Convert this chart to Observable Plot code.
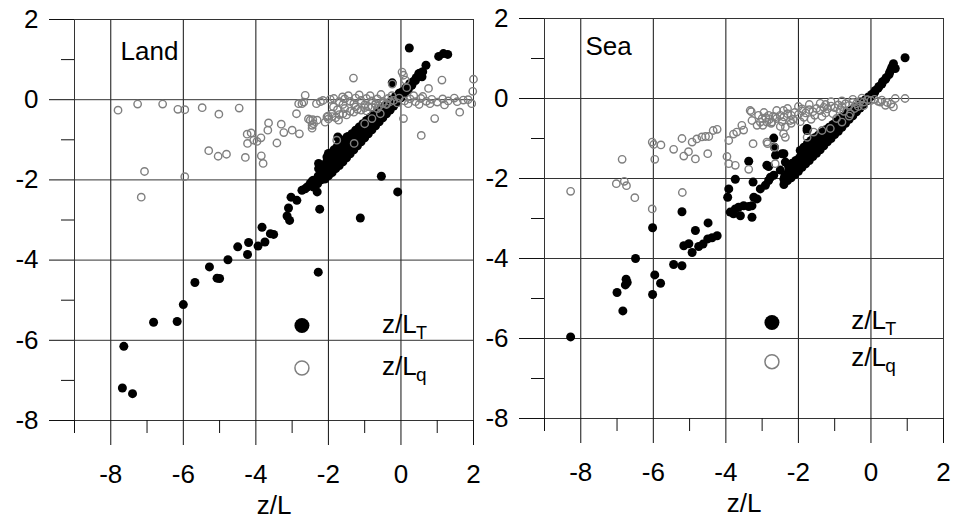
<!DOCTYPE html>
<html><head><meta charset="utf-8">
<script src="https://cdn.jsdelivr.net/npm/d3@7"></script>
<script src="https://cdn.jsdelivr.net/npm/@observablehq/plot@0.6"></script>
<style>
body{margin:0;background:#fff;}
#wrap{position:relative;width:953px;height:518px;overflow:hidden;}
#wrap svg{position:absolute;top:0;}
</style></head><body><div id="wrap"></div>
<script>
// ---------- data ----------
const xMajorTicks = [-8, -6, -4, -2, 0, 2];
const xMinorTicks = [-9, -7, -5, -3, -1, 1];
const yMajorTicks = [-8, -6, -4, -2, 0, 2];
const yMinorTicks = [-7, -5, -3, -1, 1];
const xGridLines = [-8, -6, -4, -2, 0];
const yGridLines = [-6, -4, -2, 0];
const panelNames = ["Land", "Sea"];
const axisTitle = "z/L";
const seriesNames = ["z/L", "T", "q"];

// Land, z/L_T (filled black)
const landT = [
[-7.68,-7.19],[-7.40,-7.33],[-7.64,-6.15],[-6.82,-5.55],[-6.17,-5.53],[-6.00,-5.11],[-5.68,-4.56],[-5.07,-4.45],[-5.00,-4.46],[-5.28,-4.17],
[-4.77,-3.99],[-4.23,-3.86],[-4.50,-3.67],[-4.20,-3.56],[-3.94,-3.65],[-3.75,-3.55],[-3.83,-3.18],[-3.60,-3.34],[-3.51,-3.36],[-3.14,-2.90],
[-3.07,-3.01],[-3.10,-2.70],[-3.03,-2.43],[-2.87,-2.51],[-2.73,-2.26],[-2.64,-2.22],[-2.50,-2.09],[-2.41,-2.18],[-2.31,-2.30],[-2.45,-2.03],
[-2.22,-1.93],[-2.27,-1.59],[-2.27,-1.72],[-2.24,-2.73],[-2.28,-4.30],[-1.12,-2.95],[-0.54,-1.91],[-0.09,-2.30],[-1.95,-1.51],[-1.76,-1.43],
[-1.58,-1.34],[-1.40,-1.30],[-1.86,-1.68],[-1.74,-0.93],[-1.49,-0.93],[-2.04,-1.43],[-2.00,-1.34],[-1.72,-0.97],[-1.49,-1.01],[-2.59,-2.18],
[-2.41,-2.01],[0.23,1.29],[1.04,1.08],[1.17,1.15],[1.29,1.13],[0.69,0.86],[0.49,0.65],[0.58,0.57],[-0.24,0.42],
[-2.3,-2.1],[-2.28,-1.9],[-2.2,-2.0],[-2.18,-1.8],[-2.15,-1.65],[-2.1,-1.98],[-2.08,-1.75],[-2.05,-1.55],[-2.0,-1.9],[-1.98,-1.7],
[-1.97,-1.5],[-1.95,-1.35],[-1.9,-1.82],[-1.88,-1.6],[-1.87,-1.4],[-1.85,-1.25],[-1.8,-1.72],[-1.78,-1.5],[-1.77,-1.3],[-1.75,-1.15],
[-1.7,-1.64],[-1.68,-1.45],[-1.67,-1.25],[-1.65,-1.08],[-1.6,-1.55],[-1.58,-1.35],[-1.57,-1.15],[-1.55,-1.0],[-1.5,-1.45],[-1.48,-1.25],
[-1.47,-1.05],[-1.45,-0.92],[-1.4,-1.35],[-1.38,-1.15],[-1.37,-0.98],[-1.35,-0.85],[-1.3,-1.25],[-1.28,-1.05],[-1.27,-0.9],[-1.25,-0.76],
[-1.2,-1.15],[-1.18,-0.98],[-1.17,-0.82],[-1.15,-0.68],[-1.1,-1.05],[-1.08,-0.9],[-1.07,-0.74],[-1.05,-0.6],[-1.0,-0.95],[-0.98,-0.8],
[-0.97,-0.65],[-0.95,-0.52],[-0.9,-0.85],[-0.88,-0.7],[-0.87,-0.57],[-0.85,-0.44],[-0.8,-0.75],[-0.78,-0.62],[-0.77,-0.5],[-0.75,-0.36],
[-0.7,-0.65],[-0.68,-0.53],[-0.67,-0.42],[-0.65,-0.3],[-0.6,-0.55],[-0.58,-0.45],[-0.57,-0.34],[-0.55,-0.22],[-0.5,-0.45],[-0.48,-0.36],
[-0.47,-0.25],[-0.45,-0.15],[-0.4,-0.35],[-0.38,-0.27],[-0.37,-0.18],[-0.35,-0.08],[-0.3,-0.26],[-0.28,-0.18],[-0.27,-0.1],[-0.25,0.0],
[-0.2,-0.16],[-0.18,-0.08],[-0.17,0.0],[-0.15,0.08],[-0.1,-0.06],[-0.08,0.02],[-0.07,0.1],[-0.05,0.16],[0.0,0.05],[0.02,0.12],
[0.04,0.2],[0.1,0.15],[0.12,0.22],[0.14,0.3],[0.2,0.25],[0.22,0.33],[0.24,0.4],[0.3,0.36],[0.33,0.45],[0.4,0.48],
[0.42,0.55],[0.5,0.6],[0.52,0.66],[0.6,0.7]
];

// Land, z/L_q (open grey)
const landQ = [
[-7.80,-0.26],[-7.26,-0.11],[-6.57,-0.11],[-6.15,-0.24],[-5.96,-0.25],[-5.48,-0.20],[-5.02,-0.36],[-4.46,-0.21],[-7.07,-1.79],[-7.16,-2.43],
[-5.96,-1.92],[-5.30,-1.27],[-5.04,-1.41],[-4.81,-1.36],[-4.29,-1.44],[-3.85,-1.40],[-3.80,-1.59],[-4.24,-0.86],[-4.13,-0.83],[-4.23,-1.09],
[-4.06,-1.01],[-3.97,-1.04],[-3.86,-0.95],[-3.65,-0.58],[-3.67,-0.76],[-3.42,-1.08],[-3.30,-0.61],[-3.23,-0.82],[-3.00,-0.76],[-2.80,-0.85],
[-2.88,-0.35],[-2.82,-0.10],[-2.73,-0.10],[-2.64,0.11],[-2.55,-0.48],[-2.43,-0.50],[-2.45,-0.64],[-2.45,-0.71],[-2.31,-0.51],[-2.33,-0.10],
[-2.22,-0.05],[-2.09,-0.56],[-2.01,-0.41],[-1.95,0.01],[-1.86,-0.18],[-1.77,-1.01],[-1.29,-1.09],[-1.00,-0.60],[-1.31,0.54],[-1.61,0.07],
[0.03,0.69],[0.07,0.61],[0.12,0.49],[-0.24,0.39],[0.16,0.30],[0.76,0.28],[1.13,0.49],[2.00,0.51],[1.98,0.21],[1.47,0.04],
[1.72,-0.01],[1.95,-0.10],[1.62,-0.31],[0.93,-0.47],[0.56,-0.89],[0.07,-0.47],[-2.68,-0.06],[-2.50,-0.51],[-2.41,-0.60],[-1.72,-0.51],
[-0.80,-0.47],[-0.57,-0.35],[-2.04,-0.43],[-1.90,-0.35],
[-2.15,-0.02],[-1.85,0.03],[-1.7,-0.05],[-1.55,0.02],[-1.4,-0.04],[-1.25,0.04],[-1.1,-0.02],[-0.95,0.03],[-0.8,-0.03],[-0.65,0.02],
[-0.5,-0.05],[-0.35,0.03],[-0.2,-0.02],[-0.05,0.04],[0.1,-0.03],[0.25,0.02],[0.4,-0.05],[0.55,0.03],[0.7,-0.04],[0.85,0.01],
[1.0,-0.06],[1.15,0.02],[1.3,-0.03],[1.55,-0.05],[1.85,0.0],[-1.6,-0.12],[-1.3,-0.1],[-1.0,-0.13],[-0.7,-0.1],[-0.4,-0.12],
[-0.1,-0.08],[0.2,-0.1],[0.5,-0.12],[0.8,-0.1],[1.2,-0.13],[-1.45,0.1],[-1.15,0.12],[-0.85,0.1],[-0.55,0.13],[-0.25,0.1],
[0.35,0.1],[0.6,0.08],[-2.0,-0.48],[-1.9,-0.42],[-1.8,-0.45],[-1.7,-0.37],[-1.6,-0.35],[-1.5,-0.38],[-1.4,-0.29],[-1.3,-0.31],
[-1.2,-0.24],[-1.1,-0.26],[-1.0,-0.2],[-0.9,-0.17],[-0.8,-0.19],[-0.7,-0.12],[-0.6,-0.15],[-0.5,-0.09],[-0.4,-0.1],[-0.3,-0.05],
[-1.55,-0.22],[-1.25,-0.18],[-0.95,-0.28],[-0.65,-0.22],[-1.75,-0.25]
];

// Sea, z/L_T (filled black)
const seaT = [
[-8.28,-5.96],[-7.00,-4.85],[-6.84,-5.31],[-6.75,-4.52],[-6.77,-4.66],[-6.72,-4.60],[-6.49,-4.00],[-5.96,-4.41],[-5.80,-4.62],[-6.02,-4.90],
[-5.44,-4.15],[-5.21,-4.18],[-4.93,-3.85],[-6.02,-3.23],[-5.21,-2.83],[-4.84,-3.30],[-4.49,-3.11],[-5.16,-3.68],[-5.02,-3.63],[-4.75,-3.70],
[-4.63,-3.64],[-4.50,-3.51],[-4.38,-3.48],[-4.24,-3.43],[-3.74,-2.02],[-3.92,-2.26],[-3.95,-2.47],[-3.88,-2.84],[-3.74,-2.76],[-3.65,-2.72],
[-3.51,-2.68],[-3.37,-2.70],[-3.28,-2.68],[-3.79,-2.88],[-3.60,-2.93],[-3.28,-2.97],[-3.37,-1.57],[-3.25,-2.09],[-3.23,-2.47],[-3.14,-2.51],
[-3.05,-2.26],[-2.91,-2.17],[-2.82,-2.05],[-2.77,-1.97],[-2.68,-1.92],[-2.63,-1.42],[-2.66,-1.22],[-2.82,-1.70],[-2.68,-0.99],[-2.40,-1.38],
[-2.36,-1.59],[-2.50,-1.79],[-2.40,-2.02],[-2.87,-1.67],[-2.45,-1.38],[-1.76,-0.80],[-1.76,-0.75],[0.94,1.02],[0.62,0.87],[0.67,0.75],[0.58,0.79],
[-2.4,-2.15],[-2.38,-1.95],[-2.3,-2.05],[-2.28,-1.85],[-2.27,-1.7],[-2.2,-1.98],[-2.18,-1.8],[-2.17,-1.62],[-2.1,-1.9],[-2.08,-1.72],
[-2.07,-1.55],[-2.0,-1.82],[-1.98,-1.65],[-1.97,-1.48],[-1.95,-1.3],[-1.9,-1.72],[-1.88,-1.55],[-1.87,-1.4],[-1.85,-1.22],[-1.8,-1.63],
[-1.78,-1.47],[-1.77,-1.3],[-1.75,-1.12],[-1.7,-1.55],[-1.68,-1.38],[-1.67,-1.22],[-1.65,-1.05],[-1.6,-1.45],[-1.58,-1.3],[-1.57,-1.15],
[-1.55,-0.98],[-1.5,-1.37],[-1.48,-1.22],[-1.47,-1.08],[-1.45,-0.92],[-1.4,-1.28],[-1.38,-1.13],[-1.37,-1.0],[-1.35,-0.85],[-1.3,-1.18],
[-1.28,-1.05],[-1.27,-0.92],[-1.25,-0.78],[-1.2,-1.08],[-1.18,-0.95],[-1.17,-0.85],[-1.15,-0.72],[-1.1,-1.0],[-1.08,-0.88],[-1.07,-0.77],
[-1.05,-0.65],[-1.0,-0.9],[-0.98,-0.8],[-0.97,-0.7],[-0.95,-0.58],[-0.9,-0.82],[-0.88,-0.7],[-0.87,-0.6],[-0.85,-0.5],[-0.8,-0.72],
[-0.78,-0.62],[-0.77,-0.52],[-0.75,-0.43],[-0.7,-0.62],[-0.68,-0.53],[-0.67,-0.45],[-0.65,-0.36],[-0.6,-0.52],[-0.58,-0.45],[-0.57,-0.37],
[-0.55,-0.3],[-0.5,-0.43],[-0.48,-0.36],[-0.47,-0.29],[-0.45,-0.23],[-0.4,-0.33],[-0.38,-0.27],[-0.37,-0.21],[-0.3,-0.24],[-0.28,-0.18],
[-0.27,-0.12],[-0.2,-0.14],[-0.18,-0.09],[-0.17,-0.04],[-0.1,-0.05],[-0.08,0.0],[-0.07,0.04],[0.0,0.05],[0.02,0.1],[0.1,0.15],
[0.12,0.2],[0.2,0.26],[0.22,0.3],[0.3,0.36],[0.32,0.42],[0.4,0.48],[0.42,0.52],[0.5,0.6],[0.52,0.66],[0.55,0.72]
];

// Sea, z/L_q (open grey)
const seaQ = [
[-8.28,-2.32],[-7.02,-2.13],[-6.80,-2.07],[-6.74,-2.18],[-6.86,-1.52],[-6.51,-2.48],[-5.96,-1.52],[-6.03,-2.76],[-6.03,-1.09],[-5.99,-1.15],
[-5.79,-1.16],[-5.44,-1.27],[-5.21,-1.00],[-5.16,-1.44],[-5.03,-1.33],[-4.84,-1.51],[-4.93,-1.09],[-4.80,-1.01],[-4.66,-0.96],[-4.56,-0.95],
[-4.47,-0.95],[-4.35,-0.80],[-4.24,-0.77],[-4.50,-1.38],[-5.20,-2.35],[-3.97,-1.45],[-3.92,-1.63],[-3.74,-1.67],[-3.37,-1.77],[-3.92,-1.05],
[-3.79,-0.89],[-3.70,-0.84],[-3.51,-0.79],[-3.56,-0.67],[-3.33,-0.30],[-3.30,-0.33],[-3.28,-0.55],[-3.25,-1.13],[-3.14,-0.67],[-3.05,-0.59],
[-2.98,-0.67],[-2.87,-0.59],[-2.82,-0.42],[-2.73,-0.59],[-2.64,-0.46],[-2.85,-1.13],[-2.66,-1.22],[-2.64,-1.63],[-2.41,-0.30],[-2.36,-0.97],
[-2.41,-0.88],[-2.22,-0.55],[-2.87,-1.09],[-1.76,-0.97],[-1.58,-0.84],[-1.35,-0.80],[-1.12,-0.75],[-0.80,-0.59],[-0.57,-0.38],[-2.36,-0.71],
[0.62,-0.21],[0.67,0.0],[0.94,0.0],[0.40,-0.17],[0.26,-0.09],
[-3.0,-0.5],[-2.9,-0.48],[-2.8,-0.52],[-2.7,-0.45],[-2.6,-0.5],[-2.5,-0.42],[-2.4,-0.46],[-2.3,-0.38],[-2.2,-0.42],[-2.1,-0.35],
[-2.0,-0.4],[-1.9,-0.31],[-1.8,-0.36],[-1.7,-0.28],[-1.6,-0.33],[-1.5,-0.25],[-1.4,-0.3],[-1.3,-0.22],[-1.2,-0.26],[-1.1,-0.19],
[-1.0,-0.23],[-0.9,-0.16],[-0.8,-0.2],[-0.7,-0.13],[-0.6,-0.17],[-0.5,-0.1],[-0.4,-0.13],[-0.3,-0.07],[-0.2,-0.09],[-0.1,-0.03],
[0.0,-0.05],[0.1,-0.02],[0.2,-0.07],[0.3,-0.04],[0.45,-0.1],[0.55,-0.14],
[-2.6,-0.3],[-2.3,-0.25],[-2.0,-0.2],[-1.7,-0.15],[-1.4,-0.12],[-1.1,-0.08],[-0.8,-0.06],[-0.5,-0.02],[-0.25,0.01],[-1.9,-0.26],[-1.25,-0.15],
[-2.5,-0.7],[-2.2,-0.62],[-1.95,-0.58],[-1.65,-0.52],[-1.35,-0.45],[-1.05,-0.38],[-0.75,-0.32],[-0.45,-0.25],[-0.2,-0.18],[-0.95,-0.5],[-0.6,-0.44],
[-2.75,-0.62],[-2.45,-0.58],[-2.15,-0.52],[-1.85,-0.47],[-1.55,-0.42],[-1.25,-0.36],[-0.85,-0.28],[-0.35,-0.2],[-3.1,-0.42],[-2.95,-0.35]
];

// ---------- drawing ----------
const FONT = "'Liberation Sans', Arial, Helvetica, sans-serif";
const FS = 26;
const fmt = d => String(d);
const GX = d => d[0], GY = d => d[1];

function panel(cfg) {
  const svg = Plot.plot({
    width: 476, height: 518,
    marginLeft: 74, marginRight: 3, marginTop: cfg.mt, marginBottom: cfg.mb,
    x: {domain: [-9, 2]},
    y: {domain: [-8, 2]},
    style: {fontFamily: FONT, fontSize: FS + "px", background: "transparent", overflow: "visible", color: "#000"},
    marks: [
      Plot.gridX(xGridLines, {stroke: "#111", strokeOpacity: 1, strokeWidth: 1}),
      Plot.gridY(yGridLines, {stroke: "#333", strokeOpacity: 1, strokeWidth: 1}),
      Plot.frame({stroke: "#333", strokeWidth: 1}),
      Plot.axisX(xMajorTicks, {tickSize: 25, tickPadding: 19, tickFormat: fmt, label: null, fontSize: FS, stroke: "#111"}),
      Plot.axisX(xMinorTicks, {tickSize: 13, text: null, label: null, stroke: "#111"}),
      Plot.axisY(yMajorTicks, {tickSize: 25, tickPadding: 11, tickFormat: fmt, label: null, fontSize: FS, stroke: "#111"}),
      Plot.axisY(yMinorTicks, {tickSize: 13, text: null, label: null, stroke: "#111"}),
      Plot.dot(cfg.T, {x: GX, y: GY, r: 4.5, fill: "#000", stroke: "none"}),
      Plot.dot(cfg.Q, {x: GX, y: GY, r: 3.7, fill: "none", stroke: "#7f7f7f", strokeWidth: 1.4}),
      Plot.text([cfg.name], {x: () => cfg.nameX, y: () => cfg.nameY, text: d => d, textAnchor: "start", lineAnchor: "bottom", fontSize: FS, fill: "#000"}),
      Plot.text([axisTitle], {frameAnchor: "bottom", dy: 93, lineAnchor: "bottom", text: d => d, fontSize: FS, fill: "#000"}),
      // legend
      Plot.dot([seriesNames[1]], {x: () => -2.73, y: () => cfg.legTY, r: 7.5, fill: "#000", stroke: "none"}),
      Plot.dot([seriesNames[2]], {x: () => -2.73, y: () => cfg.legQY, r: 7, fill: "none", stroke: "#7f7f7f", strokeWidth: 1.5}),
      Plot.text([seriesNames[0]], {x: () => cfg.legX, y: () => cfg.legTTextY, text: d => d, textAnchor: "start", lineAnchor: "bottom", fontSize: FS, fill: "#000"}),
      Plot.text([seriesNames[1]], {x: () => cfg.legX, y: () => cfg.legTTextY, text: d => d, dx: 34, dy: 6, textAnchor: "start", lineAnchor: "bottom", fontSize: 18, fill: "#000"}),
      Plot.text([seriesNames[0]], {x: () => cfg.legX, y: () => cfg.legQTextY, text: d => d, textAnchor: "start", lineAnchor: "bottom", fontSize: FS, fill: "#000"}),
      Plot.text([seriesNames[2]], {x: () => cfg.legX, y: () => cfg.legQTextY, text: d => d, dx: 34, dy: 6, textAnchor: "start", lineAnchor: "bottom", fontSize: 19, fill: "#000"})
    ]
  });
  svg.style.left = cfg.left + "px";
  return svg;
}

const wrap = document.getElementById("wrap");
wrap.appendChild(panel({
  left: 0, mt: 19, mb: 98, T: landT, Q: landQ, name: panelNames[0], nameX: -7.73, nameY: 0.98,
  legTY: -5.63, legQY: -6.69, legX: -0.52, legTTextY: -5.83, legQTextY: -6.87
}));
wrap.appendChild(panel({
  left: 470, mt: 18, mb: 100, T: seaT, Q: seaQ, name: panelNames[1], nameX: -7.87, nameY: 1.08,
  legTY: -5.60, legQY: -6.58, legX: -0.54, legTTextY: -5.76, legQTextY: -6.68
}));
</script>
</body></html>
